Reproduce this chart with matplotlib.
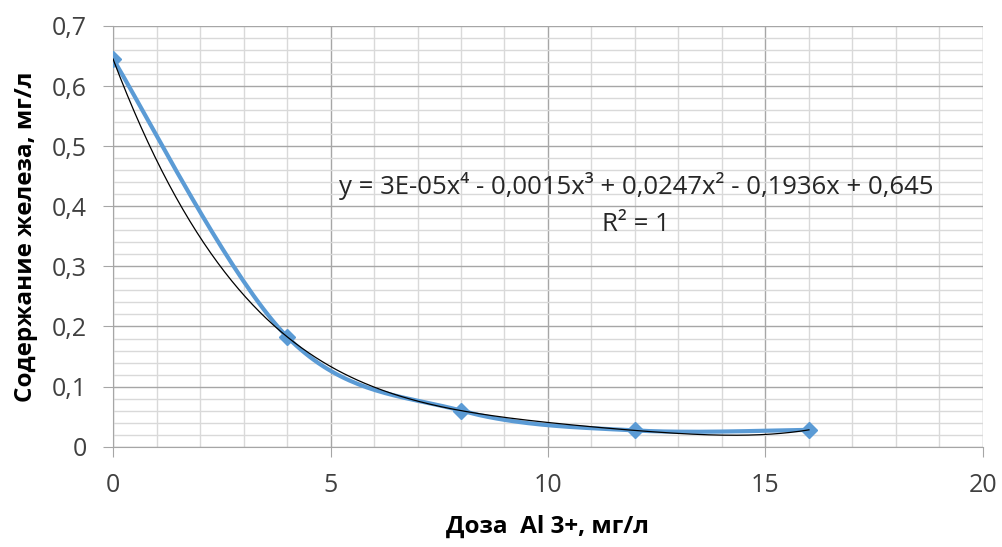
import matplotlib
matplotlib.use('Agg')
import matplotlib.pyplot as plt
import numpy as np
from matplotlib.ticker import MultipleLocator, FuncFormatter

# data
doza = [0, 4, 8, 12, 16]
zhelezo = [0.645, 0.183, 0.060, 0.027, 0.028]
eq_text = 'y = 3E-05x\u2074 - 0,0015x\u00b3 + 0,0247x\u00b2 - 0,1936x + 0,645'
r2_text = 'R\u00b2 = 1'

plt.rcParams['font.family'] = ['Open Sans', 'DejaVu Sans']


def smooth(xs, ys, n=40):
    '''excel-like smoothed line: catmull-rom turned into cubic bezier'''
    xs, ys = np.asarray(xs, float), np.asarray(ys, float)
    px, py = [], []
    t = np.linspace(0, 1, n)
    for i in range(len(xs) - 1):
        i0, i3 = max(i - 1, 0), min(i + 2, len(xs) - 1)
        c1x = xs[i] + (xs[i + 1] - xs[i0]) / 6.0
        c1y = ys[i] + (ys[i + 1] - ys[i0]) / 6.0
        c2x = xs[i + 1] - (xs[i3] - xs[i]) / 6.0
        c2y = ys[i + 1] - (ys[i3] - ys[i]) / 6.0
        bx = (1-t)**3*xs[i] + 3*(1-t)**2*t*c1x + 3*(1-t)*t**2*c2x + t**3*xs[i+1]
        by = (1-t)**3*ys[i] + 3*(1-t)**2*t*c1y + 3*(1-t)*t**2*c2y + t**3*ys[i+1]
        px.extend(bx)
        py.extend(by)
    return px, py


fig = plt.figure(figsize=(10.03, 5.47), dpi=100)
ax = fig.add_axes([0.1127, 0.1834, 0.8673, 0.7691])

sx, sy = smooth(doza, zhelezo)
ax.plot(sx, sy, color='#5B9BD5', lw=3, zorder=3, solid_capstyle='round')
ax.plot(doza, zhelezo, linestyle='none', marker='D', markersize=8,
        color='#5B9BD5', zorder=4)

# 4th order trendline through the points
coef = np.polyfit(doza, zhelezo, 4)
xt = np.linspace(0, 16, 300)
ax.plot(xt, np.polyval(coef, xt), color='black', lw=0.9, zorder=5)

ax.set_xlim(0, 20)
ax.set_ylim(0, 0.7)
ax.xaxis.set_major_locator(MultipleLocator(5))
ax.xaxis.set_minor_locator(MultipleLocator(1))
ax.yaxis.set_major_locator(MultipleLocator(0.1))
ax.yaxis.set_minor_locator(MultipleLocator(0.02))
ax.yaxis.set_major_formatter(FuncFormatter(lambda v, p: ('%g' % round(v, 2)).replace('.', ',')))
ax.grid(which='minor', color='#d9d9d9', lw=1.0, zorder=0)
ax.grid(which='major', color='#a6a6a6', lw=1.0, zorder=1)
ax.set_axisbelow(True)
for s in ['top', 'right']:
    ax.spines[s].set_visible(False)
for s in ['left', 'bottom']:
    ax.spines[s].set_color('#a6a6a6')
ax.tick_params(which='major', length=7, color='#a6a6a6', labelsize=18,
               labelcolor='#404040', pad=12)
ax.tick_params(which='minor', length=0)

ax.set_xlabel('Доза  Al 3+, мг/л', fontsize=17.5, fontweight='bold', labelpad=12)
ax.set_ylabel('Содержание железа, мг/л', fontsize=17.5, fontweight='bold', labelpad=10)

ax.text(12.02, 0.433, eq_text, fontsize=18.5, ha='center', va='center', color='#262626')
ax.text(12.02, 0.37, r2_text, fontsize=18.5, ha='center', va='center', color='#262626')

fig.savefig('out.png', dpi=100)
